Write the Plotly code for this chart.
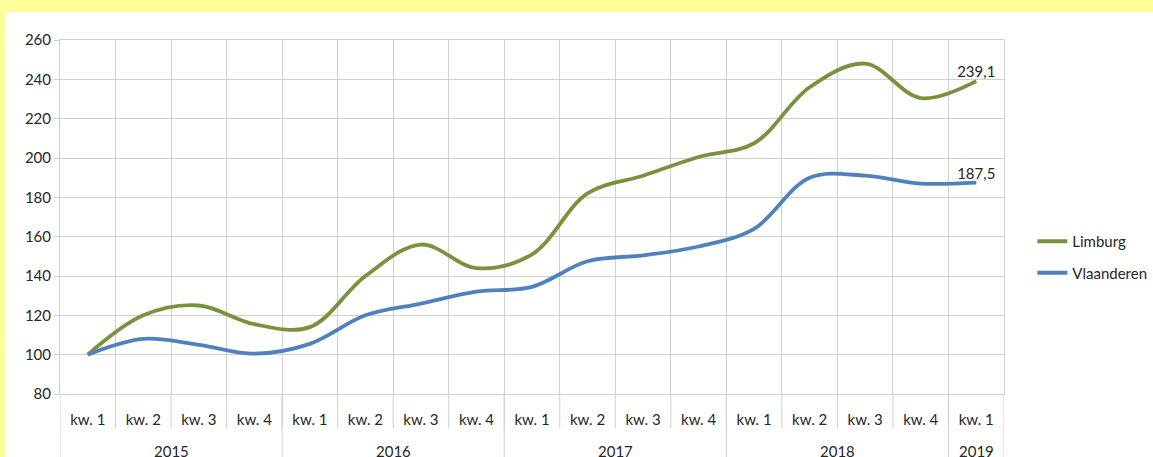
import plotly.graph_objects as go

# index figures per quarter (2015 kw. 1 = 100)
years = ['2015'] * 4 + ['2016'] * 4 + ['2017'] * 4 + ['2018'] * 4 + ['2019']
quarters = ['kw. 1', 'kw. 2', 'kw. 3', 'kw. 4'] * 4 + ['kw. 1']
limburg = [100, 120, 125, 115.5, 114, 140, 156, 144, 151, 182, 191, 200.5,
           207.5, 236, 248, 230.5, 239.1]
vlaanderen = [100, 108, 105, 100.5, 105.5, 120, 126, 132, 134.5, 147.5, 150.5,
              155, 164, 190, 191, 187, 187.5]

cats = [f'{y} {q}' for y, q in zip(years, quarters)]
grid = '#D0D0D0'

fig = go.Figure()


def last_label(vals):
    return [''] * (len(vals) - 1) + [f'{vals[-1]:.1f}'.replace('.', ',')]


fig.add_trace(go.Scatter(x=cats, y=limburg, name='Limburg',
                         mode='lines+text', text=last_label(limburg),
                         textposition='top center',
                         textfont=dict(size=15, color='#262626'),
                         line=dict(color='#77933C', width=3.8, shape='spline', smoothing=1),
                         legendgroup='a', cliponaxis=False))
fig.add_trace(go.Scatter(x=cats, y=vlaanderen, name='Vlaanderen',
                         mode='lines+text', text=last_label(vlaanderen),
                         textposition='top center',
                         textfont=dict(size=15, color='#262626'),
                         line=dict(color='#4F81BD', width=3.8, shape='spline', smoothing=1),
                         legendgroup='b', cliponaxis=False))

# white chart area on the yellow background
fig.add_shape(type='rect', xref='paper', yref='paper', layer='below',
              x0=-0.0583, x1=1.2, y0=-0.3, y1=1.079,
              fillcolor='white', line_width=0)

# short dividers between the quarter labels
for i in range(len(cats) - 1):
    fig.add_shape(type='line', xref='x', yref='paper', x0=i + 0.5, x1=i + 0.5,
                  y0=0, y1=-34 / 354, line=dict(color=grid, width=1))

# year labels under the quarters, with full-height dividers
year_order = list(dict.fromkeys(years))
bounds = [-0.5]
for yr in year_order:
    idx = [i for i, y in enumerate(years) if y == yr]
    fig.add_annotation(x=sum(idx) / len(idx), y=-57 / 354, xref='x', yref='paper',
                       text=yr, showarrow=False, yanchor='middle',
                       font=dict(size=15, color='#262626'))
    bounds.append(idx[-1] + 0.5)
for b in bounds:
    fig.add_shape(type='line', xref='x', yref='paper', x0=b, x1=b,
                  y0=0, y1=-0.3, line=dict(color=grid, width=1))

fig.update_layout(
    width=1153, height=457,
    margin=dict(l=60, r=149, t=40, b=63, autoexpand=False),
    paper_bgcolor='#FFFF99',
    plot_bgcolor='white',
    font=dict(family='Lato, sans-serif', size=15, color='#262626'),
    showlegend=True,
    legend=dict(x=1.03, y=0.387, xanchor='left', yanchor='middle',
                font=dict(size=15), tracegroupgap=9, bgcolor='rgba(0,0,0,0)'),
)
fig.update_xaxes(type='category', tickson='boundaries', range=[-0.5, len(cats) - 0.5],
                 tickvals=cats, ticktext=quarters,
                 showgrid=True, gridcolor=grid, gridwidth=1,
                 showline=True, linecolor=grid, mirror=True,
                 ticks='', ticklabelstandoff=12, tickfont=dict(size=15))
fig.update_yaxes(range=[80, 260], dtick=20, showgrid=True, gridcolor=grid,
                 gridwidth=1, showline=True, linecolor=grid, mirror=True,
                 ticks='outside', ticklen=5, tickcolor=grid,
                 tickfont=dict(size=15), zeroline=False)

fig.write_html('out.html', config={'displayModeBar': False},
               post_script="document.body.style.margin='0';")
